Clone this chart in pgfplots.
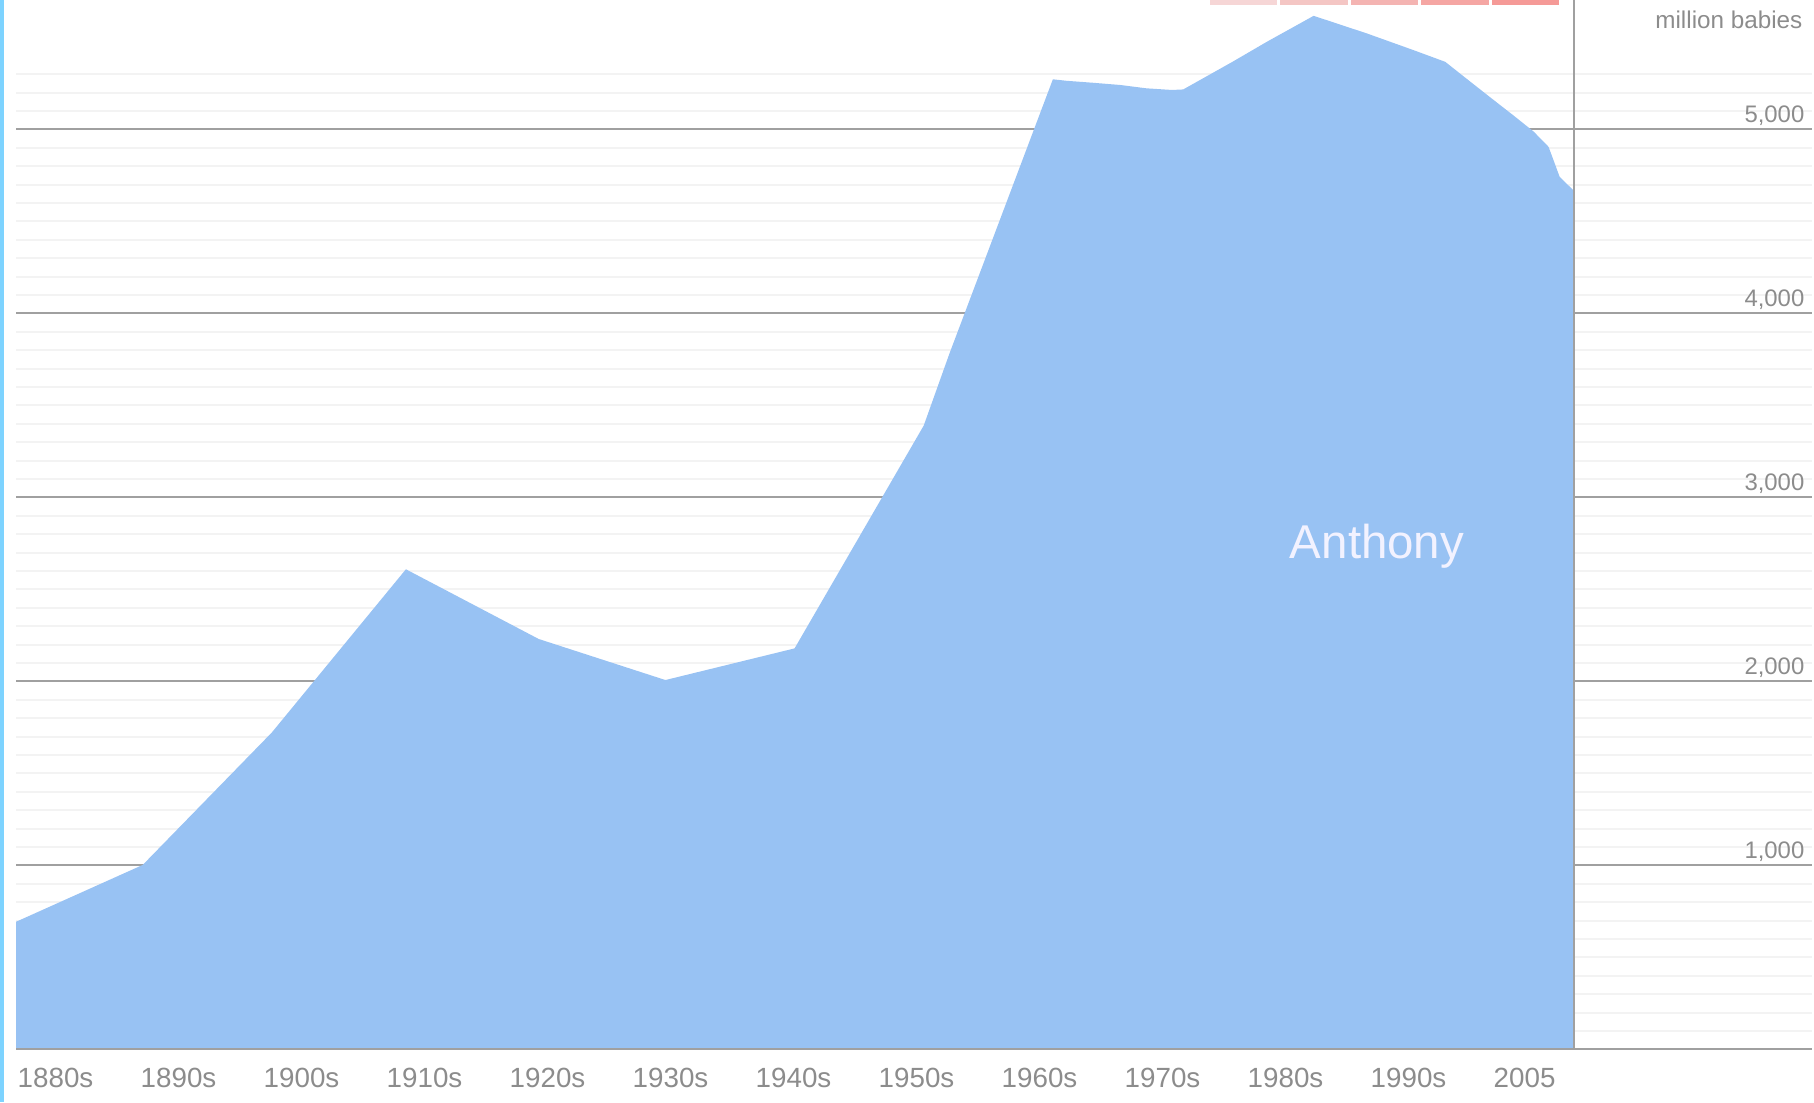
\documentclass[border=0pt]{standalone}
\usepackage{fontspec}
\setmainfont{Liberation Sans}
\usepackage{pgfplots}
\pgfplotsset{compat=1.18}
\definecolor{areablue}{RGB}{152,194,243}
\definecolor{gridmajor}{RGB}{160,160,160}
\definecolor{gridminor}{RGB}{243,243,243}
\definecolor{labgray}{RGB}{140,140,140}
\definecolor{stripcyan}{RGB}{125,211,255}
\definecolor{pinkA}{RGB}{246,214,214}
\definecolor{pinkB}{RGB}{244,198,196}
\definecolor{pinkC}{RGB}{244,180,178}
\definecolor{pinkD}{RGB}{245,166,163}
\definecolor{pinkE}{RGB}{245,154,151}
\begin{document}
\begin{tikzpicture}
\path[use as bounding box] (-1.6mm,-5.27mm) rectangle (179.8mm,104.93mm);
\fill[stripcyan] (-1.6mm,-5.27mm) rectangle (-1.2mm,104.93mm);
\begin{axis}[
  at={(0,0)}, anchor=south west,
  scale only axis, width=179.6mm, height=104.93mm,
  xmin=1880, xmax=2026.02, ymin=0, ymax=5703,
  clip=false,
  axis line style={draw=none},
  tick style={draw=none},
  xtick={1880,1890,1900,1910,1920,1930,1940,1950,1960,1970,1980,1990,2000},
  xticklabels={1880s,1890s,1900s,1910s,1920s,1930s,1940s,1950s,1960s,1970s,1980s,1990s,2005},
  x tick label style={anchor=north west, inner sep=0pt, yshift=-1.8mm, xshift=0.1mm,
    font=\fontsize{7.9pt}{9pt}\selectfont, text=labgray},
  ytick={1000,2000,3000,4000,5000},
  yticklabels={{1,000},{2,000},{3,000},{4,000},{5,000}},
  yticklabel pos=right,
  y tick label style={anchor=base east, inner sep=0pt, xshift=-0.7mm, yshift=0.66mm,
    font=\fontsize{6.8pt}{8pt}\selectfont, text=labgray},
  minor ytick={100,200,...,5300},
  ymajorgrids, yminorgrids,
  major grid style={draw=gridmajor, line width=0.2mm},
  minor grid style={draw=gridminor, line width=0.2mm},
]
\addplot[fill=areablue, draw=none] coordinates {
(1880,693) (1890.3,1002) (1900.8,1722) (1911.7,2609) (1922.5,2230)
(1932.8,2007) (1943.3,2179) (1953.8,3390) (1955.9,3783) (1964.3,5272)
(1965.4,5264) (1967.6,5253) (1969.8,5241) (1971.9,5223) (1974.0,5214)
(1974.9,5217) (1978.9,5367) (1981.7,5476) (1985.5,5617) (1989.8,5522)
(1993.6,5431) (1996.2,5367) (1997.9,5277) (1999.8,5177) (2001.7,5078)
(2003.4,4987) (2004.6,4905) (2005.0,4833) (2005.5,4742) (2006.6,4670)
(2006.7,4665)
} \closedcycle;
\addplot[draw=gridmajor, line width=0.2mm] coordinates {(2006.7,0) (2006.7,5703)};
\addplot[draw=gridmajor, line width=0.2mm] coordinates {(1880,0) (2026.02,0)};
\end{axis}
\node[anchor=base east, inner sep=0pt, text=labgray, font=\fontsize{6.9pt}{8pt}\selectfont]
  at (178.7mm,102.1mm) {million babies};
\node[inner sep=0pt, text={rgb,255:red,242;green,242;blue,255}, font=\fontsize{13.5pt}{16pt}\selectfont]
  at (136.1mm,50.33mm) {Anthony};
\fill[pinkA] (119.4mm,104.43mm) rectangle (126.1mm,104.93mm);
\fill[pinkB] (126.4mm,104.43mm) rectangle (133.2mm,104.93mm);
\fill[pinkC] (133.5mm,104.43mm) rectangle (140.2mm,104.93mm);
\fill[pinkD] (140.5mm,104.43mm) rectangle (147.3mm,104.93mm);
\fill[pinkE] (147.6mm,104.43mm) rectangle (154.3mm,104.93mm);
\end{tikzpicture}
\end{document}
